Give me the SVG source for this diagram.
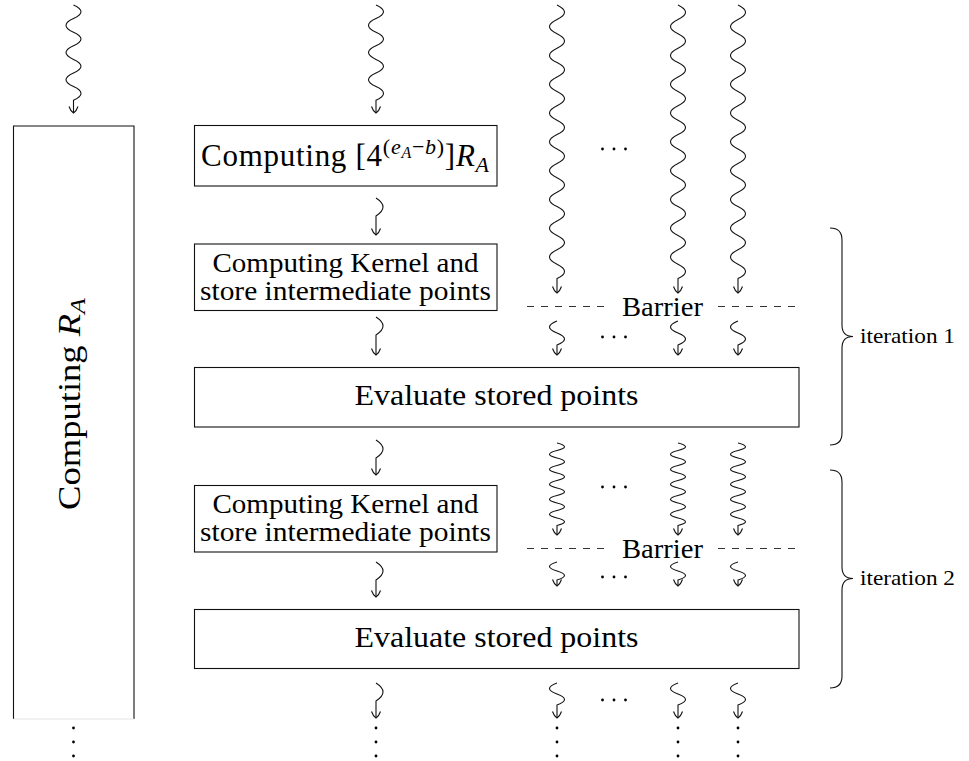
<svg xmlns="http://www.w3.org/2000/svg" width="969" height="761" viewBox="0 0 969 761">
<style>
.box{fill:none;stroke:#111;stroke-width:1.1}
.w{fill:none;stroke:#111;stroke-width:1.1;marker-end:url(#to)}
.t{font-family:"Liberation Serif","Times New Roman",serif;fill:#000}
.dash{stroke:#333;stroke-width:1.1;stroke-dasharray:7 7}
.br{fill:none;stroke:#111;stroke-width:1.1}
.dot{fill:#000}
</style>
<defs>
<marker id="to" viewBox="-8 -6 10 12" refX="0" refY="0" markerWidth="10" markerHeight="12" orient="auto" markerUnits="userSpaceOnUse">
<path d="M -6.5 -4.5 Q -2 -3 0 0 Q -2 3 -6.5 4.5" fill="none" stroke="#111" stroke-width="1.1"/>
</marker>
<g id="hd"><circle cx="-11.5" cy="0" r="1.4"/><circle cx="0" cy="0" r="1.4"/><circle cx="11.5" cy="0" r="1.4"/></g>
<g id="vd"><circle cx="0" cy="0" r="1.4"/><circle cx="0" cy="14" r="1.4"/><circle cx="0" cy="28" r="1.4"/></g>
</defs>

<g id="node-RA">
<path class="box" d="M13.5 719 V126 H134 V719"/>
<line x1="13.5" y1="719" x2="134" y2="719" stroke="#e4e4e4" stroke-width="1"/>
<text class="t" font-size="31" text-anchor="middle" textLength="212" lengthAdjust="spacingAndGlyphs" transform="translate(80 404) rotate(-90)">Computing <tspan font-style="italic">R</tspan><tspan font-style="italic" font-size="22" dy="5">A</tspan></text>
</g>

<g id="node-top">
<rect class="box" x="194.5" y="125.5" width="302.5" height="60.5"/>
<text class="t" x="345" y="166" font-size="31" text-anchor="middle" textLength="288" lengthAdjust="spacing">Computing [4<tspan font-size="22" dy="-12">(<tspan font-style="italic">e</tspan><tspan font-size="16" font-style="italic" dy="4">A</tspan><tspan dy="-4">−</tspan><tspan font-style="italic">b</tspan>)</tspan><tspan dy="12">]</tspan><tspan font-style="italic">R</tspan><tspan font-size="22" font-style="italic" dy="6">A</tspan></text>
</g>

<g id="node-kernel1">
<rect class="box" x="194.5" y="244" width="302.5" height="66.5"/>
<text class="t" x="345.5" y="272" font-size="27" text-anchor="middle" textLength="266" lengthAdjust="spacingAndGlyphs">Computing Kernel and</text>
<text class="t" x="345.5" y="299.5" font-size="27" text-anchor="middle" textLength="291" lengthAdjust="spacingAndGlyphs">store intermediate points</text>
</g>

<g id="node-eval1">
<rect class="box" x="194.5" y="367.5" width="604.5" height="59.5"/>
<text class="t" x="496.5" y="405" font-size="29" text-anchor="middle" textLength="284" lengthAdjust="spacingAndGlyphs">Evaluate stored points</text>
</g>

<g id="node-kernel2">
<rect class="box" x="194.5" y="485.5" width="302.5" height="66.5"/>
<text class="t" x="345.5" y="513" font-size="27" text-anchor="middle" textLength="266" lengthAdjust="spacingAndGlyphs">Computing Kernel and</text>
<text class="t" x="345.5" y="540.5" font-size="27" text-anchor="middle" textLength="291" lengthAdjust="spacingAndGlyphs">store intermediate points</text>
</g>

<g id="node-eval2">
<rect class="box" x="194.5" y="609.5" width="604.5" height="59"/>
<text class="t" x="496.5" y="647" font-size="29" text-anchor="middle" textLength="284" lengthAdjust="spacingAndGlyphs">Evaluate stored points</text>
</g>

<g id="barrier1">
<line class="dash" x1="527" y1="306.5" x2="608" y2="306.5"/>
<line class="dash" x1="718" y1="306.5" x2="800" y2="306.5"/>
<text class="t" x="662.5" y="315.5" font-size="27" text-anchor="middle" textLength="81" lengthAdjust="spacingAndGlyphs">Barrier</text>
</g>

<g id="barrier2">
<line class="dash" x1="527" y1="548.5" x2="608" y2="548.5"/>
<line class="dash" x1="718" y1="548.5" x2="800" y2="548.5"/>
<text class="t" x="662.5" y="557.5" font-size="27" text-anchor="middle" textLength="81" lengthAdjust="spacingAndGlyphs">Barrier</text>
</g>

<g id="iteration1">
<path class="br" d="M830 228 Q842 228 842 240 L842 325 Q842 336.5 853 336.5 Q842 336.5 842 348 L842 433 Q842 445 830 445"/>
<text class="t" x="860" y="343" font-size="22" textLength="95" lengthAdjust="spacingAndGlyphs">iteration 1</text>
</g>

<g id="iteration2">
<path class="br" d="M830 470 Q842 470 842 482 L842 567 Q842 578.5 853 578.5 Q842 578.5 842 590 L842 676 Q842 688 830 688"/>
<text class="t" x="860" y="585" font-size="22" textLength="95" lengthAdjust="spacingAndGlyphs">iteration 2</text>
</g>

<g id="connectors">
<path class="w" d="M73.5 5 q15 6.8 0 13.6 t0 13.6 t0 13.6 t0 13.6 t0 13.6 t0 13.6 t0 13.6 L73.5 113"/>
<path class="w" d="M376 5 q15 6.8 0 13.6 t0 13.6 t0 13.6 t0 13.6 t0 13.6 t0 13.6 t0 13.6 L376 113"/>
<path class="w" d="M557 5 q15 7.2 0 14.4 t0 14.4 t0 14.4 t0 14.4 t0 14.4 t0 14.4 t0 14.4 t0 14.4 t0 14.4 t0 14.4 t0 14.4 t0 14.4 t0 14.4 t0 14.4 t0 14.4 t0 14.4 t0 14.4 t0 14.4 t0 14.4 L557 293"/>
<path class="w" d="M678 5 q15 7.2 0 14.4 t0 14.4 t0 14.4 t0 14.4 t0 14.4 t0 14.4 t0 14.4 t0 14.4 t0 14.4 t0 14.4 t0 14.4 t0 14.4 t0 14.4 t0 14.4 t0 14.4 t0 14.4 t0 14.4 t0 14.4 t0 14.4 L678 293"/>
<path class="w" d="M738 5 q15 7.2 0 14.4 t0 14.4 t0 14.4 t0 14.4 t0 14.4 t0 14.4 t0 14.4 t0 14.4 t0 14.4 t0 14.4 t0 14.4 t0 14.4 t0 14.4 t0 14.4 t0 14.4 t0 14.4 t0 14.4 t0 14.4 t0 14.4 L738 293"/>
<path class="w" d="M376 198 q14 9 0 18 L376 235"/>
<path class="w" d="M376 317 q14 9 0 18 L376 355"/>
<path class="w" d="M376 440 q14 9 0 18 L376 475"/>
<path class="w" d="M376 562 q14 9 0 18 L376 597"/>
<path class="w" d="M376 683 q14 9 0 18 L376 718"/>
<path class="w" d="M557 321 q-15 6 0 12 t0 12 L557 355"/>
<path class="w" d="M678 321 q-15 6 0 12 t0 12 L678 355"/>
<path class="w" d="M738 321 q-15 6 0 12 t0 12 L738 355"/>
<path class="w" d="M557 443 q15 3.75 0 7.5 t0 7.5 t0 7.5 t0 7.5 t0 7.5 t0 7.5 t0 7.5 t0 7.5 t0 7.5 t0 7.5 t0 7.5 L557 535"/>
<path class="w" d="M678 443 q15 3.75 0 7.5 t0 7.5 t0 7.5 t0 7.5 t0 7.5 t0 7.5 t0 7.5 t0 7.5 t0 7.5 t0 7.5 t0 7.5 L678 535"/>
<path class="w" d="M738 443 q15 3.75 0 7.5 t0 7.5 t0 7.5 t0 7.5 t0 7.5 t0 7.5 t0 7.5 t0 7.5 t0 7.5 t0 7.5 t0 7.5 L738 535"/>
<path class="w" d="M557 562 q-15 4.5 0 9 t0 9 L557 586"/>
<path class="w" d="M678 562 q-15 4.5 0 9 t0 9 L678 586"/>
<path class="w" d="M738 562 q-15 4.5 0 9 t0 9 L738 586"/>
<path class="w" d="M557 683 q-15 5.5 0 11 t0 11 L557 718"/>
<path class="w" d="M678 683 q-15 5.5 0 11 t0 11 L678 718"/>
<path class="w" d="M738 683 q-15 5.5 0 11 t0 11 L738 718"/>
</g>

<g id="dots" class="dot">
<use href="#hd" x="614" y="149"/>
<use href="#hd" x="614" y="337"/>
<use href="#hd" x="614" y="487"/>
<use href="#hd" x="614" y="577"/>
<use href="#hd" x="614" y="700"/>
<use href="#vd" x="73.5" y="728"/>
<use href="#vd" x="376" y="728"/>
<use href="#vd" x="557" y="728"/>
<use href="#vd" x="678" y="728"/>
<use href="#vd" x="738" y="728"/>
</g>
</svg>
